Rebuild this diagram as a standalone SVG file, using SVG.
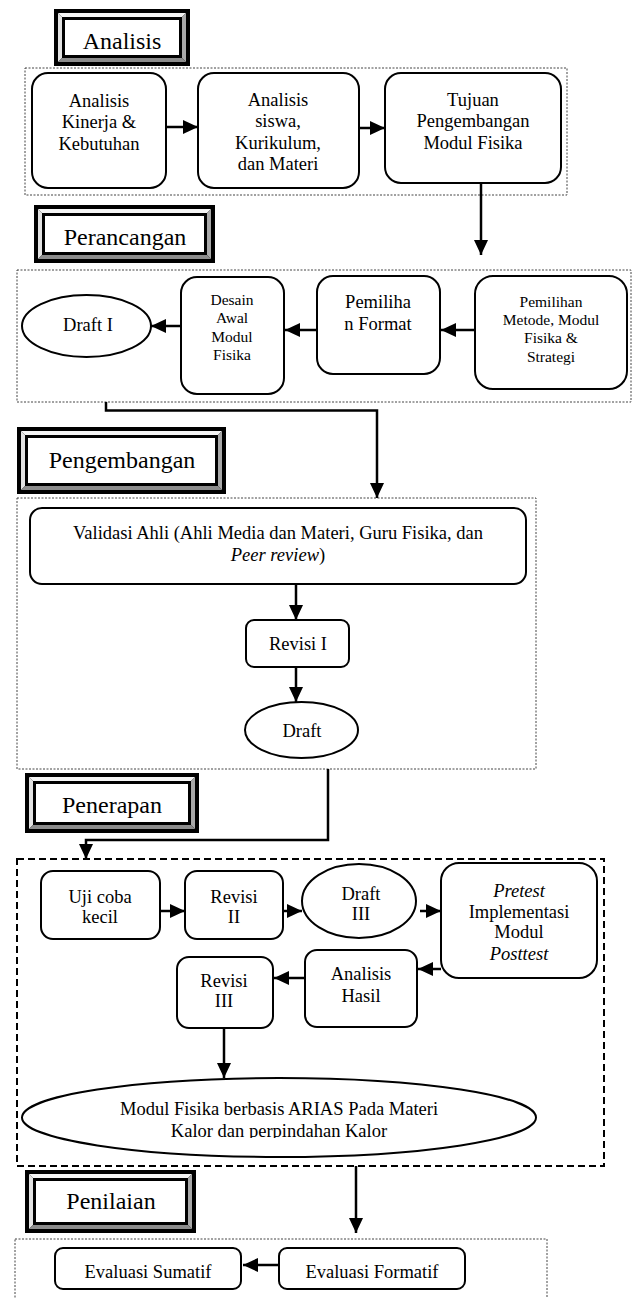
<svg xmlns="http://www.w3.org/2000/svg" width="633" height="1298" viewBox="0 0 633 1298">
<style>
text{font-family:"Liberation Serif","Times New Roman",serif;fill:#000;text-anchor:middle}
.t{font-size:18.5px}
.s{font-size:15.5px}
.h{font-size:24px}
.box{fill:#fff;stroke:#000;stroke-width:2}
.dot{fill:none;stroke:#444;stroke-width:1;stroke-dasharray:2 1.5}
.dash{fill:none;stroke:#000;stroke-width:2;stroke-dasharray:7 4}
.c{fill:none;stroke:#000;stroke-width:2.5}
.bt{fill:#f4f4f4}.bl{fill:#e2e2e2}.br{fill:#a8a8a8}.bb{fill:#8c8c8c}
</style>
<defs>
<marker id="ah" markerUnits="userSpaceOnUse" markerWidth="16" markerHeight="14" refX="15" refY="7" orient="auto">
<path d="M0,0 L15,7 L0,14 z" fill="#000"/>
</marker>
<clipPath id="clipFinal"><rect x="22" y="1085" width="514" height="53"/></clipPath>
</defs>
<rect width="633" height="1298" fill="#fff"/>

<g id="groups">
<rect class="dot" x="25" y="68" width="542" height="127"/>
<rect class="dot" x="17" y="270" width="614" height="132"/>
<rect class="dot" x="17" y="498" width="519" height="271"/>
<rect class="dash" x="17" y="859" width="587" height="307"/>
<rect class="dot" x="15" y="1239" width="532" height="80"/>
</g>

<g id="h-analisis" transform="translate(54,9)">
<rect width="136" height="57" fill="#000"/>
<polygon class="bt" points="4,4 132,4 128,8 8,8"/>
<polygon class="bl" points="4,4 8,8 8,49 4,53"/>
<polygon class="br" points="132,4 132,53 128,49 128,8"/>
<polygon class="bb" points="4,53 132,53 128,49 8,49"/>
<rect x="11" y="11" width="114" height="35" fill="#fff"/>
<text class="h" x="68" y="40">Analisis</text>
</g>

<g id="h-perancangan" transform="translate(34,205)">
<rect width="181" height="58" fill="#000"/>
<polygon class="bt" points="4,4 177,4 173,8 8,8"/>
<polygon class="bl" points="4,4 8,8 8,50 4,54"/>
<polygon class="br" points="177,4 177,54 173,50 173,8"/>
<polygon class="bb" points="4,54 177,54 173,50 8,50"/>
<rect x="11" y="11" width="159" height="36" fill="#fff"/>
<text class="h" x="91" y="40">Perancangan</text>
</g>

<g id="h-pengembangan" transform="translate(17,427)">
<rect width="209" height="67" fill="#000"/>
<polygon class="bt" points="4,4 205,4 201,8 8,8"/>
<polygon class="bl" points="4,4 8,8 8,59 4,63"/>
<polygon class="br" points="205,4 205,63 201,59 201,8"/>
<polygon class="bb" points="4,63 205,63 201,59 8,59"/>
<rect x="11" y="11" width="187" height="45" fill="#fff"/>
<text class="h" x="105" y="41">Pengembangan</text>
</g>

<g id="h-penerapan" transform="translate(25,773)">
<rect width="174" height="60" fill="#000"/>
<polygon class="bt" points="4,4 170,4 166,8 8,8"/>
<polygon class="bl" points="4,4 8,8 8,52 4,56"/>
<polygon class="br" points="170,4 170,56 166,52 166,8"/>
<polygon class="bb" points="4,56 170,56 166,52 8,52"/>
<rect x="11" y="11" width="152" height="38" fill="#fff"/>
<text class="h" x="87" y="40">Penerapan</text>
</g>

<g id="h-penilaian" transform="translate(25,1170)">
<rect width="171" height="63" fill="#000"/>
<polygon class="bt" points="4,4 167,4 163,8 8,8"/>
<polygon class="bl" points="4,4 8,8 8,55 4,59"/>
<polygon class="br" points="167,4 167,59 163,55 163,8"/>
<polygon class="bb" points="4,59 167,59 163,55 8,55"/>
<rect x="11" y="11" width="149" height="41" fill="#fff"/>
<text class="h" x="86" y="39">Penilaian</text>
</g>

<g id="a1">
<rect class="box" x="32" y="73" width="134" height="115" rx="16"/>
<text class="t" x="99" y="107">Analisis</text>
<text class="t" x="99" y="128">Kinerja &amp;</text>
<text class="t" x="99" y="150">Kebutuhan</text>
</g>
<g id="a2">
<rect class="box" x="198" y="73" width="161" height="115" rx="16"/>
<text class="t" x="278" y="106">Analisis</text>
<text class="t" x="278" y="127">siswa,</text>
<text class="t" x="278" y="149">Kurikulum,</text>
<text class="t" x="278" y="170">dan Materi</text>
</g>
<g id="a3">
<rect class="box" x="385" y="73" width="176" height="110" rx="16"/>
<text class="t" x="473" y="106">Tujuan</text>
<text class="t" x="473" y="127">Pengembangan</text>
<text class="t" x="473" y="149">Modul Fisika</text>
</g>

<g id="draft1">
<ellipse class="box" cx="86.5" cy="326" rx="64.5" ry="31"/>
<text class="t" x="88" y="331">Draft I</text>
</g>
<g id="p3">
<rect class="box" x="181" y="277" width="103" height="117" rx="16"/>
<text class="s" x="232" y="305">Desain</text>
<text class="s" x="232" y="323">Awal</text>
<text class="s" x="232" y="342">Modul</text>
<text class="s" x="232" y="360">Fisika</text>
</g>
<g id="p2">
<rect class="box" x="317" y="276" width="123" height="98" rx="16"/>
<text class="t" x="378" y="308">Pemiliha</text>
<text class="t" x="378" y="330">n Format</text>
</g>
<g id="p1">
<rect class="box" x="475" y="276" width="152" height="113" rx="18"/>
<text class="s" x="551" y="307">Pemilihan</text>
<text class="s" x="551" y="325">Metode, Modul</text>
<text class="s" x="551" y="343">Fisika &amp;</text>
<text class="s" x="551" y="362">Strategi</text>
</g>

<g id="validasi">
<rect class="box" x="30" y="508" width="496" height="76" rx="12"/>
<text class="t" x="278" y="539">Validasi Ahli (Ahli Media dan Materi, Guru Fisika, dan</text>
<text class="t" x="278" y="561"><tspan font-style="italic">Peer review</tspan>)</text>
</g>
<g id="revisi1">
<rect class="box" x="246" y="620" width="103" height="47" rx="8"/>
<text class="t" x="298" y="650">Revisi I</text>
</g>
<g id="draft">
<ellipse class="box" cx="301.5" cy="730" rx="56.5" ry="28"/>
<text class="t" x="302" y="737">Draft</text>
</g>

<g id="uji">
<rect class="box" x="41" y="871" width="119" height="68" rx="12"/>
<text class="t" x="100" y="903">Uji coba</text>
<text class="t" x="100" y="923">kecil</text>
</g>
<g id="revisi2">
<rect class="box" x="185" y="871" width="98" height="68" rx="12"/>
<text class="t" x="234" y="903">Revisi</text>
<text class="t" x="234" y="923">II</text>
</g>
<g id="draft3">
<ellipse class="box" cx="359" cy="901" rx="57" ry="37"/>
<text class="t" x="361" y="900">Draft</text>
<text class="t" x="361" y="920">III</text>
</g>
<g id="pretest">
<rect class="box" x="441" y="863" width="156" height="115" rx="18"/>
<text class="t" x="519" y="897" font-style="italic">Pretest</text>
<text class="t" x="519" y="918">Implementasi</text>
<text class="t" x="519" y="938">Modul</text>
<text class="t" x="519" y="960" font-style="italic">Posttest</text>
</g>
<g id="analisis-hasil">
<rect class="box" x="305" y="950" width="112" height="77" rx="12"/>
<text class="t" x="361" y="980">Analisis</text>
<text class="t" x="361" y="1002">Hasil</text>
</g>
<g id="revisi3">
<rect class="box" x="177" y="957" width="96" height="71" rx="12"/>
<text class="t" x="224" y="987">Revisi</text>
<text class="t" x="224" y="1007">III</text>
</g>
<g id="modul-final">
<ellipse class="box" cx="279" cy="1117.5" rx="257" ry="39.5"/>
<g clip-path="url(#clipFinal)">
<text class="t" x="279" y="1115">Modul Fisika berbasis ARIAS Pada Materi</text>
<text class="t" x="279" y="1137">Kalor dan perpindahan Kalor</text>
</g>
</g>

<g id="sumatif">
<rect class="box" x="55" y="1248" width="186" height="41" rx="8"/>
<text class="t" x="148" y="1278">Evaluasi Sumatif</text>
</g>
<g id="formatif">
<rect class="box" x="279" y="1248" width="186" height="41" rx="8"/>
<text class="t" x="372" y="1278">Evaluasi Formatif</text>
</g>

<g id="connectors">
<path class="c" d="M166,127 H198" marker-end="url(#ah)"/>
<path class="c" d="M359,128 H385" marker-end="url(#ah)"/>
<path class="c" d="M481,183 V255" marker-end="url(#ah)"/>
<path class="c" d="M475,330 H441" marker-end="url(#ah)"/>
<path class="c" d="M317,330 H285" marker-end="url(#ah)"/>
<path class="c" d="M181,326 H151" marker-end="url(#ah)"/>
<path class="c" d="M106,402 V410.5 H377 V498" marker-end="url(#ah)"/>
<path class="c" d="M296,584 V620" marker-end="url(#ah)"/>
<path class="c" d="M296,667 V702" marker-end="url(#ah)"/>
<path class="c" d="M328,769 V840 H86 V859" marker-end="url(#ah)"/>
<path class="c" d="M160,911 H185" marker-end="url(#ah)"/>
<path class="c" d="M283,911 H302" marker-end="url(#ah)"/>
<path class="c" d="M420,911 H441" marker-end="url(#ah)"/>
<path class="c" d="M441,969 H418" marker-end="url(#ah)"/>
<path class="c" d="M305,978 H274" marker-end="url(#ah)"/>
<path class="c" d="M224,1028 V1078" marker-end="url(#ah)"/>
<path class="c" d="M356,1166 V1233" marker-end="url(#ah)"/>
<path class="c" d="M279,1265 H243" marker-end="url(#ah)"/>
</g>
</svg>
